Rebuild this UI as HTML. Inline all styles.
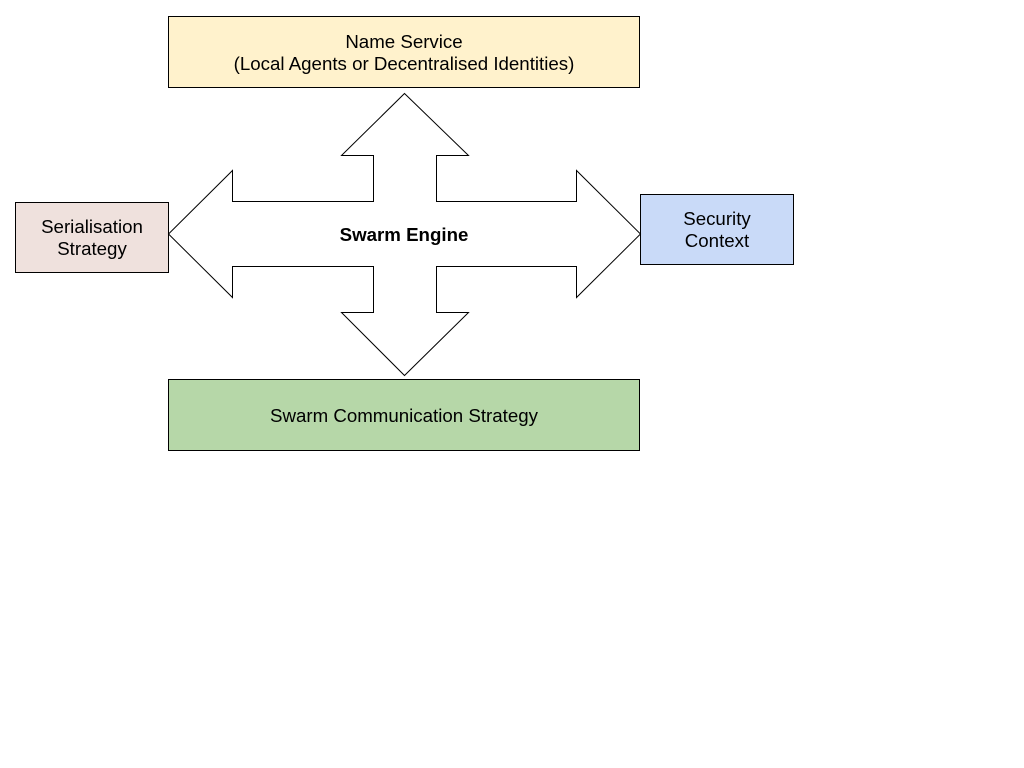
<!DOCTYPE html>
<html><head><meta charset="utf-8"><style>
body{margin:0;background:#fff;}
svg{display:block;font-family:"Liberation Sans",Arial,sans-serif;}
</style></head><body>
<svg width="1024" height="768" viewBox="0 0 1024 768">
<rect x="168.5" y="16.5" width="471" height="71" fill="#fff2cc" stroke="#000" stroke-width="1"/>
<text x="404" y="48" font-size="18.7" text-anchor="middle">Name Service</text>
<text x="404" y="70" font-size="18.7" text-anchor="middle">(Local Agents or Decentralised Identities)</text>
<rect x="15.5" y="202.5" width="153" height="70" fill="#efe1dd" stroke="#000" stroke-width="1"/>
<text x="92" y="233" font-size="18.7" text-anchor="middle">Serialisation</text>
<text x="92" y="255" font-size="18.7" text-anchor="middle">Strategy</text>
<rect x="640.5" y="194.5" width="153" height="70" fill="#c9daf8" stroke="#000" stroke-width="1"/>
<text x="717" y="225" font-size="18.7" text-anchor="middle">Security</text>
<text x="717" y="247" font-size="18.7" text-anchor="middle">Context</text>
<rect x="168.5" y="379.5" width="471" height="71" fill="#b6d7a8" stroke="#000" stroke-width="1"/>
<text x="404" y="422" font-size="18.7" text-anchor="middle">Swarm Communication Strategy</text>
<polygon points="404.5,93.5 468.5,155.5 436.5,155.5 436.5,201.5 576.5,201.5 576.5,170.5 640.5,234 576.5,297.5 576.5,266.5 436.5,266.5 436.5,312.5 468.5,312.5 404.5,375.5 341.5,312.5 373.5,312.5 373.5,266.5 232.5,266.5 232.5,297.5 168.5,234 232.5,170.5 232.5,201.5 373.5,201.5 373.5,155.5 341.5,155.5" fill="#fff" stroke="#000" stroke-width="1"/>
<text x="404" y="241" font-size="18.7" font-weight="bold" text-anchor="middle">Swarm Engine</text>
</svg>
</body></html>
